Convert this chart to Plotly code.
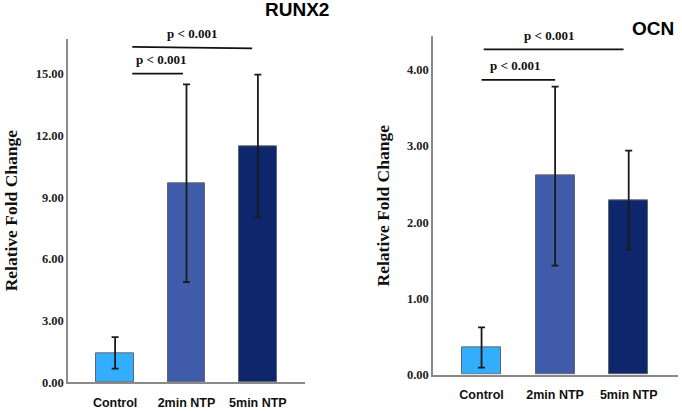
import plotly.graph_objects as go

categories = ["Control", "2min NTP", "5min NTP"]
colors = ["#33AEFF", "#3F5BAA", "#0E266C"]

runx2_mean = [1.43, 9.65, 11.47]
runx2_upper = [2.20, 14.48, 14.95]
runx2_lower = [0.67, 4.87, 8.03]

ocn_mean = [0.35, 2.61, 2.29]
ocn_upper = [0.62, 3.78, 2.94]
ocn_lower = [0.09, 1.43, 1.64]

runx2_ticks = [0, 3, 6, 9, 12, 15]
ocn_ticks = [0, 1, 2, 3, 4]

sig_text = "p < 0.001"

fig = go.Figure()

def add_panel(mean, upper, lower, xa, ya):
    fig.add_trace(go.Bar(
        x=[0, 1, 2], y=mean,
        marker=dict(color=colors, line=dict(color="#666666", width=1)),
        width=0.53,
        error_y=dict(type="data", symmetric=False,
                     array=[u - m for u, m in zip(upper, mean)],
                     arrayminus=[m - l for m, l in zip(mean, lower)],
                     color="#1a1a1a", thickness=1.8, width=3.5),
        xaxis=xa, yaxis=ya, showlegend=False,
    ))

add_panel(runx2_mean, runx2_upper, runx2_lower, "x", "y")
add_panel(ocn_mean, ocn_upper, ocn_lower, "x2", "y2")

tickfont = dict(family="Liberation Serif", size=12.5, color="#222222")
xtickfont = dict(family="Liberation Sans", size=12.5, color="#111111")

common_x = dict(tickmode="array", tickvals=[0, 1, 2], ticktext=["<b>%s</b>" % c for c in categories],
                showline=True, linecolor="#8a8a8a", linewidth=1.5, ticks="", showgrid=False,
                zeroline=False, tickfont=xtickfont, fixedrange=True, ticklabelstandoff=8)
common_y = dict(showline=True, linecolor="#8a8a8a", linewidth=1.5, ticks="", showgrid=False,
                zeroline=False, tickfont=tickfont, tickmode="array")

fig.update_layout(
    width=682, height=411,
    margin=dict(l=0, r=0, t=0, b=0),
    paper_bgcolor="white", plot_bgcolor="white",
    bargap=0,
    xaxis=dict(domain=[68/682, 305/682], range=[-0.66, 2.66], anchor="y", **common_x),
    yaxis=dict(domain=[22/411, 371/411], range=[0, 16.67], anchor="x",
               tickvals=runx2_ticks, ticktext=["<b>%.2f</b>" % v for v in runx2_ticks], **common_y),
    xaxis2=dict(domain=[433/682, 678/682], range=[-0.66, 2.67], anchor="y2", **common_x),
    yaxis2=dict(domain=[30/411, 374/411], range=[0, 4.44], anchor="x2",
                tickvals=ocn_ticks, ticktext=["<b>%.2f</b>" % v for v in ocn_ticks], **common_y),
)

line_style = dict(color="#111111", width=1.8)
# RUNX2 brackets
fig.add_shape(type="line", xref="x", yref="y", x0=0.24, x1=0.95, y0=15.0, y1=15.0, line=line_style)
fig.add_shape(type="line", xref="x", yref="y", x0=0.24, x1=1.92, y0=16.3, y1=16.23, line=line_style)
# OCN brackets
fig.add_shape(type="line", xref="x2", yref="y2", x0=0.0, x1=1.0, y0=3.87, y1=3.87, line=line_style)
fig.add_shape(type="line", xref="x2", yref="y2", x0=0.03, x1=1.93, y0=4.27, y1=4.27, line=line_style)

pfont = dict(family="Liberation Serif", size=13, color="#111111")
for xr, xv, py in [("x", 0.64, 61), ("x", 1.07, 34), ("x2", 0.45, 67), ("x2", 0.92, 36)]:
    fig.add_annotation(xref=xr, yref="paper", x=xv, y=1 - py/411, text="<b>%s</b>" % sig_text,
                       showarrow=False, font=pfont, xanchor="center", yanchor="middle")

tfont = dict(family="Liberation Sans", size=19, color="#000000")
fig.add_annotation(xref="paper", yref="paper", x=297/682, y=1 - 10/411, text="<b>RUNX2</b>",
                   showarrow=False, font=tfont, xanchor="center", yanchor="middle")
fig.add_annotation(xref="paper", yref="paper", x=653/682, y=1 - 29/411, text="<b>OCN</b>",
                   showarrow=False, font=tfont, xanchor="center", yanchor="middle")

yfont = dict(family="Liberation Serif", size=17.5, color="#111111")
fig.add_annotation(xref="paper", yref="paper", x=11/682, y=1 - 214/411, text="<b>Relative Fold Change</b>",
                   textangle=-90, showarrow=False, font=yfont, xanchor="center", yanchor="middle")
fig.add_annotation(xref="paper", yref="paper", x=383/682, y=1 - 209/411, text="<b>Relative Fold Change</b>",
                   textangle=-90, showarrow=False, font=yfont, xanchor="center", yanchor="middle")

fig.write_html("out.html")
